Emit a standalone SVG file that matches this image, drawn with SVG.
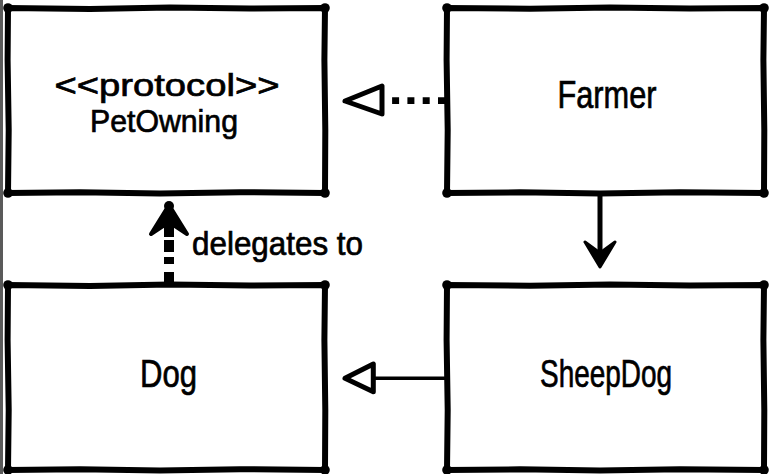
<svg xmlns="http://www.w3.org/2000/svg" width="770" height="474" viewBox="0 0 770 474">
<defs>
<style>
.box{fill:#fff;stroke:#000;stroke-width:6;stroke-linecap:round;stroke-linejoin:round}
.corner{fill:#000}
.lbl{font-family:"Liberation Sans",Arial,sans-serif;font-size:38px;fill:#000;stroke:#000;stroke-width:0.7;text-anchor:middle}
.lbl2{font-family:"Liberation Sans",Arial,sans-serif;font-size:32px;fill:#000;stroke:#000;stroke-width:0.7;text-anchor:middle}
.elbl{font-family:"Liberation Sans",Arial,sans-serif;font-size:33px;fill:#000;stroke:#000;stroke-width:0.7}
.edge{fill:none;stroke:#000}
</style>
</defs>
<rect x="0" y="0" width="770" height="474" fill="#fff"/>
<rect x="0" y="0" width="3" height="474" fill="#5a5a5a"/>

<g id="node-petowning">
<path class="box" d="M8,8 L90,9 L170,7.5 L250,8.6 L325,8 L324.4,60 L325.3,130 L325,193 L240,192.2 L160,193.5 L80,192.3 L8,193 L8.7,130 L7.6,60 Z"/>
<circle class="corner" cx="8" cy="8" r="4.8"/><circle class="corner" cx="325" cy="8" r="4.8"/>
<circle class="corner" cx="325" cy="193" r="4.8"/><circle class="corner" cx="8" cy="193" r="4.8"/>
<text class="lbl2" x="167" y="96" textLength="225" lengthAdjust="spacingAndGlyphs">&lt;&lt;protocol&gt;&gt;</text>
<text class="lbl2" x="164" y="132" textLength="148" lengthAdjust="spacingAndGlyphs">PetOwning</text>
</g>

<g id="node-farmer">
<path class="box" d="M447,8 L530,8.8 L610,7.5 L690,8.6 L764,8 L763.4,60 L764.3,130 L764,193 L680,192.2 L600,193.5 L520,192.3 L447,193 L447.7,130 L446.6,60 Z"/>
<circle class="corner" cx="447" cy="8" r="4.8"/><circle class="corner" cx="764" cy="8" r="4.8"/>
<circle class="corner" cx="764" cy="193" r="4.8"/><circle class="corner" cx="447" cy="193" r="4.8"/>
<text class="lbl" x="607" y="108" textLength="99" lengthAdjust="spacingAndGlyphs">Farmer</text>
</g>

<g id="node-dog">
<path class="box" d="M8,285 L90,286 L170,284.5 L250,285.6 L325,285 L324.4,340 L325.3,410 L325,470 L240,469.2 L160,470.5 L80,469.3 L8,470 L8.7,410 L7.6,340 Z"/>
<circle class="corner" cx="8" cy="285" r="4.8"/><circle class="corner" cx="325" cy="285" r="4.8"/>
<circle class="corner" cx="325" cy="470" r="4.8"/><circle class="corner" cx="8" cy="470" r="4.8"/>
<text class="lbl" x="168.5" y="387" textLength="57" lengthAdjust="spacingAndGlyphs">Dog</text>
</g>

<g id="node-sheepdog">
<path class="box" d="M447,285 L530,285.8 L610,284.5 L690,285.6 L764,285 L763.4,340 L764.3,410 L764,470 L680,469.2 L600,470.5 L520,469.3 L447,470 L447.7,410 L446.6,340 Z"/>
<circle class="corner" cx="447" cy="285" r="4.8"/><circle class="corner" cx="764" cy="285" r="4.8"/>
<circle class="corner" cx="764" cy="470" r="4.8"/><circle class="corner" cx="447" cy="470" r="4.8"/>
<text class="lbl" x="606" y="387" textLength="132" lengthAdjust="spacingAndGlyphs">SheepDog</text>
</g>

<g id="connectors">
<!-- Farmer realizes PetOwning (dotted, hollow triangle) -->
<path class="edge" d="M445,100.7 L392,100.7" stroke-width="6.7" stroke-dasharray="7 8.3"/>
<path d="M345,101 L382,86 L382,114 Z" fill="#fff" stroke="#000" stroke-width="5" stroke-linejoin="round"/>

<!-- Farmer to SheepDog (solid, open arrow) -->
<path class="edge" d="M600,194 L600,258" stroke-width="5"/>
<path d="M600,267 L585,242 L600,253 L615,242 Z" fill="#000" stroke="#000" stroke-width="3" stroke-linejoin="round"/>

<!-- SheepDog generalizes Dog (solid, hollow triangle) -->
<path class="edge" d="M446,378.3 L374,378.3" stroke-width="3.5"/>
<path d="M345,378.3 L373.3,364 L373.3,391.7 Z" fill="#fff" stroke="#000" stroke-width="5" stroke-linejoin="round"/>

<!-- Dog delegates to PetOwning (dashed, open arrow) -->
<path class="edge" d="M169,284 L169,272" stroke-width="10"/>
<path class="edge" d="M169,264 L169,257" stroke-width="10"/>
<path class="edge" d="M169,252 L169,240" stroke-width="10"/>
<path class="edge" d="M169,237 L169,220" stroke-width="10"/>
<path d="M169,205 L151,234 L169,222 L187,234 Z" fill="#000" stroke="#000" stroke-width="4" stroke-linejoin="round"/>
<circle cx="169" cy="206" r="5" fill="#000"/>
<text class="elbl" x="192" y="255" textLength="171" lengthAdjust="spacingAndGlyphs">delegates to</text>
</g>
</svg>
